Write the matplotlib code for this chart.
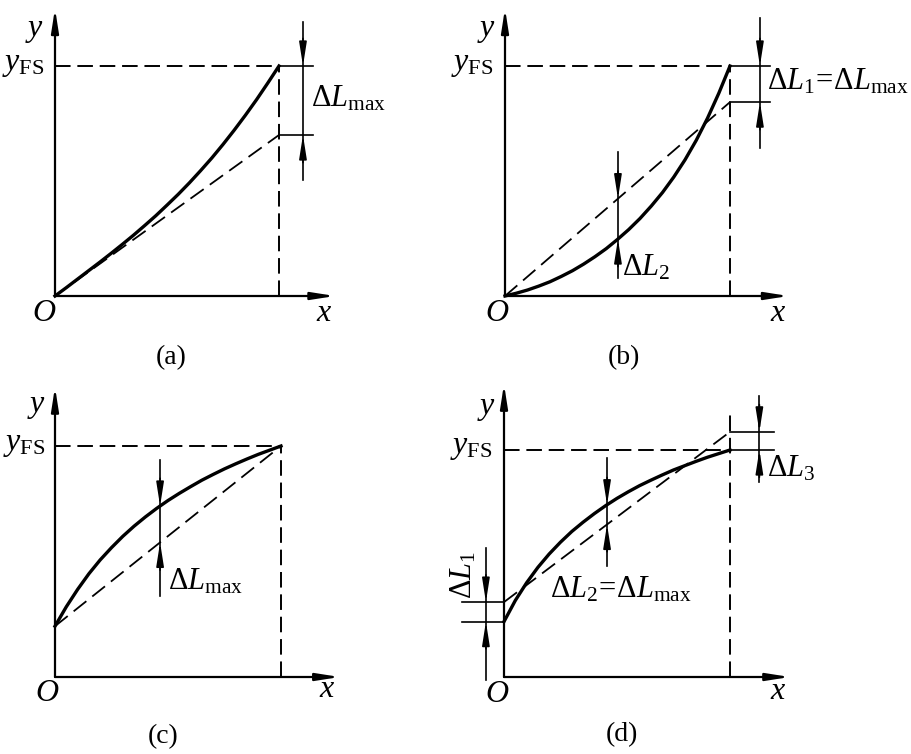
import numpy as np
import matplotlib.pyplot as plt

plt.rcParams['font.family'] = 'Liberation Serif'
plt.rcParams['mathtext.fontset'] = 'custom'
plt.rcParams['mathtext.rm'] = 'Liberation Serif'
plt.rcParams['mathtext.it'] = 'Liberation Serif:italic'

# normalised coordinates in every panel: x_end = 1, y_FS = 1
grid_x = [0, 0.05, 0.1, 0.15, 0.2, 0.25, 0.3, 0.35, 0.4, 0.45, 0.5,
          0.55, 0.6, 0.65, 0.7, 0.75, 0.8, 0.85, 0.9, 0.95, 1.0]

# (a) convex characteristic, fit line through origin
a_y = [0, 0.036, 0.073, 0.110, 0.147, 0.185, 0.224, 0.264, 0.306, 0.349, 0.395,
       0.442, 0.492, 0.545, 0.600, 0.659, 0.721, 0.786, 0.854, 0.926, 1.0]
a_fit = [0.0, 0.70]

# (b) strongly convex, fit line through origin
b_y = [0, 0.012, 0.026, 0.043, 0.062, 0.085, 0.110, 0.139, 0.171, 0.206, 0.246,
       0.289, 0.337, 0.391, 0.450, 0.517, 0.592, 0.677, 0.773, 0.881, 1.0]
b_fit = [0.0, 0.843]

# (c) concave, end-point line
c_y = [0.22, 0.304, 0.379, 0.447, 0.507, 0.560, 0.609, 0.653, 0.693, 0.730, 0.764,
       0.795, 0.824, 0.852, 0.877, 0.901, 0.923, 0.944, 0.964, 0.982, 1.0]
c_fit = [0.22, 1.0]

# (d) concave, best straight line
d_y = [0.244, 0.337, 0.415, 0.483, 0.542, 0.594, 0.641, 0.682, 0.720, 0.755, 0.787,
       0.816, 0.843, 0.867, 0.890, 0.912, 0.931, 0.950, 0.968, 0.984, 1.0]
d_fit = [0.33, 1.08]

W, H = 912, 754
XL, YL = (-0.3, 1.8), (-0.35, 1.35)
DASH = (0, (8, 3.5))
FIT_DASH = (0, (9, 4.2))
fig = plt.figure(figsize=(W / 100, H / 100), dpi=100)


def panel(ox, oy, sx, sy):
    # place an axes so that (0,0) and (1,1) land on the given pixels
    left = ox + XL[0] * sx
    top = oy - YL[1] * sy
    w = (XL[1] - XL[0]) * sx
    h = (YL[1] - YL[0]) * sy
    ax = fig.add_axes([left / W, 1 - (top + h) / H, w / W, h / H])
    ax.set_xlim(*XL)
    ax.set_ylim(*YL)
    ax.axis('off')
    return ax


def arrow(ax, tip, tail, lw=1.2):
    ax.annotate('', xy=tip, xytext=tail, annotation_clip=False,
                arrowprops=dict(arrowstyle='-|>,head_length=1.4,head_width=0.22',
                                color='k', lw=lw, shrinkA=0, shrinkB=0))


def dim(ax, x, top, bot, hi, lo):
    # dimension line with two arrows pointing inwards
    ax.plot([x, x], [top, bot], color='k', lw=1.2)
    arrow(ax, (x, hi), (x, hi + 0.12))
    arrow(ax, (x, lo), (x, lo - 0.12))


def frame(ax, x_tip, y_tip, v_top, label, lab_pos):
    arrow(ax, (x_tip, 0), (0, 0), lw=1.6)
    arrow(ax, (0, y_tip), (0, 0), lw=1.6)
    ax.plot([0, 1], [1, 1], color='k', lw=1.4, ls=DASH)
    ax.plot([1, 1], [0, v_top], color='k', lw=1.4, ls=DASH)
    ax.text(lab_pos[0], lab_pos[1], label, fontsize=20, ha='center', va='center')


def letters(ax, ypos, fspos, opos, xpos):
    ax.text(*ypos, 'y', fontsize=23, style='italic', ha='center', va='center')
    ax.text(*fspos, r'$y_{\mathrm{FS}}$', fontsize=23, ha='right', va='baseline')
    ax.text(*opos, 'O', fontsize=23, style='italic', ha='center', va='center')
    ax.text(*xpos, 'x', fontsize=23, style='italic', ha='center', va='center')


def curve(ax, ys, fit):
    ax.plot([0, 1], fit, color='k', lw=1.3, ls=FIT_DASH)
    ax.plot(grid_x, ys, color='k', lw=2.4, solid_joinstyle='round')


# ---- (a)
ax = panel(55, 296, 224, 230)
frame(ax, 1.25, 1.25, 1.0, '(a)', (0.52, -0.27))
letters(ax, (-0.09, 1.165), (-0.045, 0.983), (-0.05, -0.075), (1.2, -0.075))
curve(ax, a_y, a_fit)
ax.plot([1, 1.152], [1, 1], color='k', lw=1.2)
ax.plot([1, 1.152], [a_fit[1], a_fit[1]], color='k', lw=1.2)
dim(ax, 1.107, 1.19, 0.504, 1.0, a_fit[1])
ax.text(1.143, 0.826, r'$\Delta L_{\mathrm{max}}$', fontsize=22, ha='left', va='baseline')

# ---- (b)
ax = panel(505, 296, 225, 230)
frame(ax, 1.26, 1.25, 1.0, '(b)', (0.53, -0.27))
letters(ax, (-0.08, 1.165), (-0.053, 0.983), (-0.035, -0.075), (1.21, -0.075))
curve(ax, b_y, b_fit)
ax.plot([1, 1.178], [1, 1], color='k', lw=1.2)
ax.plot([1, 1.178], [b_fit[1], b_fit[1]], color='k', lw=1.2)
dim(ax, 1.133, 1.21, 0.643, 1.0, b_fit[1])
xm = 0.502
dim(ax, xm, 0.626, 0.078, np.interp(xm, [0, 1], b_fit), np.interp(xm, grid_x, b_y))
ax.text(1.164, 0.896, r'$\Delta L_1\!=\!\Delta L_{\mathrm{max}}$', fontsize=22,
        ha='left', va='baseline')
ax.text(0.52, 0.09, r'$\Delta L_2$', fontsize=22, ha='left', va='baseline')

# ---- (c)
ax = panel(55, 677, 226, 231)
frame(ax, 1.26, 1.255, 1.0, '(c)', (0.48, -0.26))
letters(ax, (-0.08, 1.18), (-0.044, 0.983), (-0.035, -0.07), (1.2, -0.056))
curve(ax, c_y, c_fit)
xm = 0.465
dim(ax, xm, 0.94, 0.35, np.interp(xm, grid_x, c_y), np.interp(xm, [0, 1], c_fit))
ax.text(0.5, 0.377, r'$\Delta L_{\mathrm{max}}$', fontsize=22, ha='left', va='baseline')

# ---- (d)
ax = panel(504, 677, 226, 227)
frame(ax, 1.265, 1.29, 1.18, '(d)', (0.52, -0.255))
letters(ax, (-0.075, 1.19), (-0.049, 0.987), (-0.03, -0.075), (1.21, -0.066))
curve(ax, d_y, d_fit)
# start-point deviation
ax.plot([-0.186, 0], [d_y[0], d_y[0]], color='k', lw=1.2)
ax.plot([-0.186, 0], [d_fit[0], d_fit[0]], color='k', lw=1.2)
dim(ax, -0.08, 0.57, -0.013, d_fit[0], d_y[0])
ax.text(-0.177, 0.45, r'$\Delta L_1$', fontsize=22, rotation=90, ha='center', va='center')
# end-point deviation
ax.plot([1, 1.195], [1, 1], color='k', lw=1.2)
ax.plot([1, 1.195], [d_fit[1], d_fit[1]], color='k', lw=1.2)
dim(ax, 1.13, 1.24, 0.86, d_fit[1], 1.0)
ax.text(1.164, 0.885, r'$\Delta L_3$', fontsize=22, ha='left', va='baseline')
# maximum deviation
xm = 0.456
dim(ax, xm, 0.965, 0.49, np.interp(xm, grid_x, d_y), np.interp(xm, [0, 1], d_fit))
ax.text(0.204, 0.352, r'$\Delta L_2\!=\!\Delta L_{\mathrm{max}}$', fontsize=22,
        ha='left', va='baseline')

fig.savefig('out.png', dpi=100)
